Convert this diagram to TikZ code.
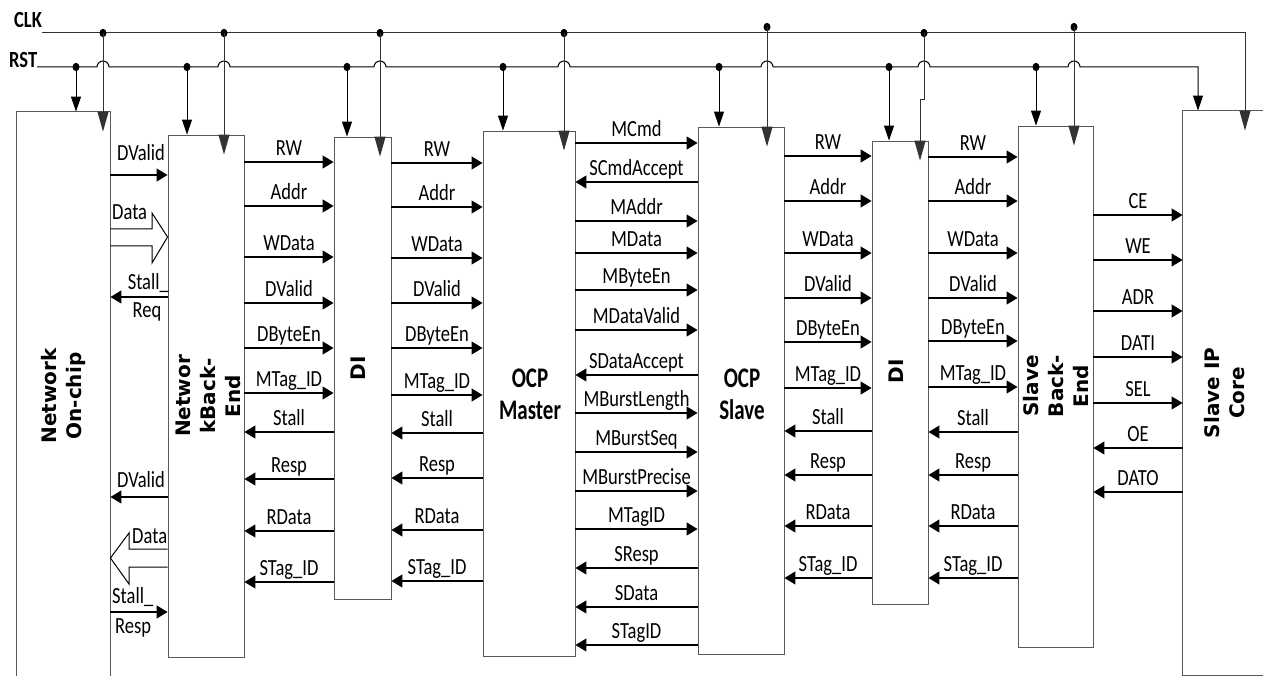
\documentclass[tikz,border=0pt]{standalone}
\usepackage{fontspec}
\setmainfont{Carlito}
\newfontfamily\vfont{DejaVu Sans}
\usetikzlibrary{arrows.meta,calc}
\newcommand\lbl[1]{\scalebox{1}[1.25]{#1}}
\newcommand\lblB[1]{\scalebox{1}[1.35]{#1}}
\newcommand\sigR[4]{\draw[sig] (#1.east |- 0,#3) -- node[lab]{\lbl{#4}} (#2.west |- 0,#3);}
\newcommand\sigL[4]{\draw[sig] (#2.west |- 0,#3) -- node[lab]{\lbl{#4}} (#1.east |- 0,#3);}
\begin{document}
\begin{tikzpicture}[x=1pt,y=-1pt,
  box/.style={draw=black!65,line width=0.9pt,inner sep=0pt},
  boxline/.style={draw=black!65,line width=0.9pt},
  sig/.style={line width=1.2pt,draw=black,-{Triangle[length=11pt,width=13pt]}},
  lab/.style={midway,anchor=base,yshift=6.5pt,inner sep=0pt,font=\fontsize{18.5}{20}\selectfont},
  txt/.style={inner sep=0pt,font=\fontsize{18.5}{20}\selectfont},
  hollow/.style={line width=1pt,draw=black},
  rstarr/.style={line width=1pt,draw=black,-{Triangle[length=15pt,width=10pt]}},
  clkarr/.style={line width=1pt,draw=black!80,-{Triangle[length=20pt,width=11pt]}},
  btxt/.style={rotate=90,align=center,inner sep=0pt,font=\vfont\bfseries\fontsize{20}{25}\selectfont},
  ocpt/.style={align=center,inner sep=0pt,font=\bfseries\fontsize{21}{32}\selectfont}
]
\useasboundingbox[fill=white] (0,0) rectangle (1263,676);
% ---------------- boxes
\node[box,draw=none,minimum width=93pt,minimum height=564pt] (net) at (63.5,394) {};
\draw[boxline] (net.south west) -- (net.north west) -- (net.north east) -- (net.south east);
\node[box,minimum width=76pt,minimum height=522pt] (nbe) at (206,396) {};
\node[box,minimum width=57pt,minimum height=462pt] (dia) at (362.5,368) {};
\node[box,minimum width=92pt,minimum height=525pt] (ocpm) at (529,393.5) {};
\node[box,minimum width=86pt,minimum height=527pt] (ocps) at (741,390.5) {};
\node[box,minimum width=56pt,minimum height=463pt] (dib) at (900,372.5) {};
\node[box,minimum width=75pt,minimum height=521pt] (sbe) at (1055.5,386.5) {};
\node[box,draw=none,minimum width=84pt,minimum height=564pt] (sip) at (1225,393) {};
\draw[boxline] (sip.north -| 1263,0) -- (sip.north west) -- (sip.south west) -- (sip.south -| 1263,0);
% ---------------- box texts
\node[btxt] (netT) at (63,396) {Network\\On-chip};
\node[btxt] (nbeT) at (208,396) {Networ\\kBack-\\End};
\node[btxt] (diaT) at (358,368) {DI};
\node[btxt] (dibT) at (896,371) {DI};
\node[btxt] (sbeT) at (1056,386) {Slave\\Back-\\End};
\node[btxt] (sipT) at (1225,393) {Slave IP\\Core};
\node[ocpt] (ocpmT) at (530,394) {\lblB{OCP}\\\lblB{Master}};
\node[ocpt] (ocpsT) at (742,394) {\lblB{OCP}\\\lblB{Slave}};
% ---------------- network <-> back-end
\sigR{net}{nbe}{175}{}
\node[txt,anchor=base] (l1) at (141,161) {\lbl{DValid}};
\draw[hollow] (net.east |- 0,229) -- (152,229) -- (152,213) -- (nbe.west |- 0,237) -- (152,263) -- (152,246) -- (net.east |- 0,246);
\node[txt,anchor=base west] (l2) at (112,220) {\lbl{Data}};
\sigL{net}{nbe}{297}{}
\node[txt,anchor=base east] (l3) at (169,290) {\lbl{Stall\_}};
\node[txt,anchor=base] (l4) at (147,317) {\lbl{Req}};
\sigL{net}{nbe}{497}{}
\node[txt,anchor=base] (l5) at (141,487) {\lbl{DValid}};
\draw[hollow] (nbe.west |- 0,549) -- (129,549) -- (129,533) -- (net.east |- 0,558) -- (129,584) -- (129,567) -- (nbe.west |- 0,567);
\node[txt,anchor=base west] (l6) at (132,543) {\lbl{Data}};
\sigR{net}{nbe}{612}{}
\node[txt,anchor=base west] (l7) at (112,603) {\lbl{Stall\_}};
\node[txt,anchor=base west] (l8) at (115,633) {\lbl{Resp}};
% ---------------- back-end -> DI
\sigR{nbe}{dia}{162}{RW}
\sigR{nbe}{dia}{206}{Addr}
\sigR{nbe}{dia}{257}{WData}
\sigR{nbe}{dia}{303}{DValid}
\sigR{nbe}{dia}{348}{DByteEn}
\sigR{nbe}{dia}{393}{MTag\_ID}
\sigL{nbe}{dia}{432}{Stall}
\sigL{nbe}{dia}{479}{Resp}
\sigL{nbe}{dia}{531}{RData}
\sigL{nbe}{dia}{582}{STag\_ID}
% ---------------- DI -> OCP master
\sigR{dia}{ocpm}{163}{RW}
\sigR{dia}{ocpm}{207}{Addr}
\sigR{dia}{ocpm}{258}{WData}
\sigR{dia}{ocpm}{303}{DValid}
\sigR{dia}{ocpm}{348}{DByteEn}
\sigR{dia}{ocpm}{395}{MTag\_ID}
\sigL{dia}{ocpm}{433}{Stall}
\sigL{dia}{ocpm}{478}{Resp}
\sigL{dia}{ocpm}{530}{RData}
\sigL{dia}{ocpm}{581}{STag\_ID}
% ---------------- OCP master <-> OCP slave
\sigR{ocpm}{ocps}{143}{MCmd}
\sigL{ocpm}{ocps}{182}{SCmdAccept}
\sigR{ocpm}{ocps}{221}{MAddr}
\sigR{ocpm}{ocps}{253}{MData}
\sigR{ocpm}{ocps}{290}{MByteEn}
\sigR{ocpm}{ocps}{330}{MDataValid}
\sigL{ocpm}{ocps}{375}{SDataAccept}
\sigR{ocpm}{ocps}{413}{MBurstLength}
\sigR{ocpm}{ocps}{452}{MBurstSeq}
\sigR{ocpm}{ocps}{491}{MBurstPrecise}
\sigR{ocpm}{ocps}{529}{MTagID}
\sigL{ocpm}{ocps}{568}{SResp}
\sigL{ocpm}{ocps}{607}{SData}
\sigL{ocpm}{ocps}{645}{STagID}
% ---------------- OCP slave -> DI
\sigR{ocps}{dib}{156}{RW}
\sigR{ocps}{dib}{201}{Addr}
\sigR{ocps}{dib}{253}{WData}
\sigR{ocps}{dib}{298}{DValid}
\sigR{ocps}{dib}{342}{DByteEn}
\sigR{ocps}{dib}{388}{MTag\_ID}
\sigL{ocps}{dib}{431}{Stall}
\sigL{ocps}{dib}{475}{Resp}
\sigL{ocps}{dib}{526}{RData}
\sigL{ocps}{dib}{578}{STag\_ID}
% ---------------- DI -> slave back-end
\sigR{dib}{sbe}{157}{RW}
\sigR{dib}{sbe}{201}{Addr}
\sigR{dib}{sbe}{253}{WData}
\sigR{dib}{sbe}{298}{DValid}
\sigR{dib}{sbe}{341}{DByteEn}
\sigR{dib}{sbe}{387}{MTag\_ID}
\sigL{dib}{sbe}{432}{Stall}
\sigL{dib}{sbe}{475}{Resp}
\sigL{dib}{sbe}{526}{RData}
\sigL{dib}{sbe}{578}{STag\_ID}
% ---------------- slave back-end <-> slave IP core
\sigR{sbe}{sip}{215}{CE}
\sigR{sbe}{sip}{260}{WE}
\sigR{sbe}{sip}{311}{ADR}
\sigR{sbe}{sip}{357}{DATI}
\sigR{sbe}{sip}{403}{SEL}
\sigL{sbe}{sip}{448}{OE}
\sigL{sbe}{sip}{492}{DATO}
% ---------------- CLK / RST
\node[txt,anchor=base west,font=\bfseries\fontsize{18.5}{20}\selectfont] (clk) at (14,28) {\lbl{CLK}};
\node[txt,anchor=base west,font=\bfseries\fontsize{18.5}{20}\selectfont] (rst) at (9,68) {\lbl{RST}};
\coordinate (clkS) at (42,33);
\coordinate (rstS) at (37,67);
\draw[rstarr] (rstS) foreach \c in {103,224,380,564,767,924,1074}{ -- (\c-6,67) arc[start angle=180,end angle=0,radius=6pt]} -- (1198,67) -- (sip.north -| 1198,0);
\foreach \x/\b in {76/net,187/nbe,347/dia,503/ocpm,719/ocps,889/dib,1036/sbe}{
  \coordinate (r\x) at (\x,67);
  \fill (r\x) ellipse[x radius=3.5pt,y radius=4.2pt];
  \draw[rstarr] (r\x) -- (\b.north -| r\x);
}
\draw[clkarr] (clkS) -- (1245,33) -- ($(sip.north -| 1245,0)+(0,20)$);
\foreach \x/\y/\b in {103/33/net,224/33/nbe,380/33/dia,564/33/ocpm,767/27/ocps,1074/27/sbe}{
  \coordinate (c\x) at (\x,\y);
  \fill (c\x) ellipse[x radius=3.5pt,y radius=4.2pt];
  \draw[clkarr] (c\x) -- ($(\b.north -| c\x)+(0,20)$);
}
\coordinate (c924) at (924,33);
\fill (c924) ellipse[x radius=3.5pt,y radius=4.2pt];
\draw[clkarr] (c924) -- (924,100) -- (920,100) -- ($(dib.north -| 920,0)+(0,20)$);
\end{tikzpicture}
\end{document}
